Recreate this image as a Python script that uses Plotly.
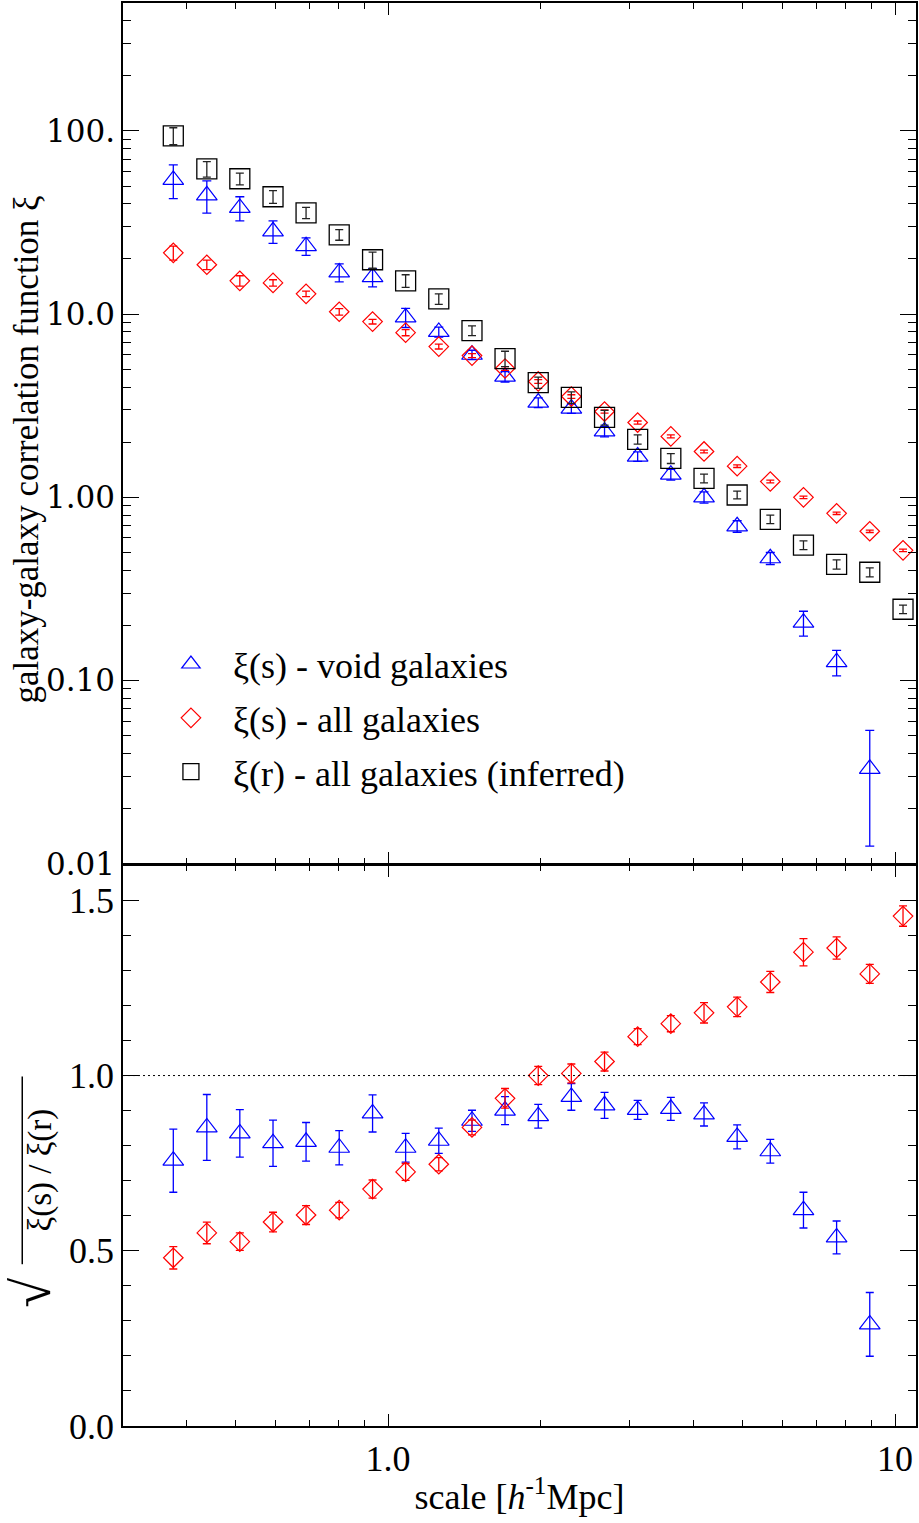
import numpy as np
import plotly.graph_objects as go

# ---------------- data ----------------
scale = [0.377, 0.439, 0.510, 0.593, 0.689, 0.801, 0.932, 1.083, 1.259, 1.464,
         1.701, 1.978, 2.299, 2.673, 3.107, 3.612, 4.200, 4.882, 5.675, 6.598,
         7.670, 8.916, 10.37]

xi_void = [54.0, 44.5, 38.0, 28.3, 23.5, 16.9, 15.9, 9.6, 8.0, 6.0,
           4.56, 3.29, 3.05, 2.29, 1.67, 1.33, 1.00, 0.695, 0.465, 0.207,
           0.126, 0.033]
xi_void_err = [11.3, 8.9, 5.7, 4.0, 2.6, 1.9, 1.8, 1.15, 0.5, 0.35,
               0.3, 0.2, 0.18, 0.15, 0.1, 0.09, 0.07, 0.05, 0.035, 0.032,
               0.020, 0.0205]

xi_all = [21.6, 18.6, 15.2, 14.8, 12.9, 10.3, 9.10, 7.92, 6.65, 5.94,
          5.05, 4.29, 3.55, 2.94, 2.56, 2.15, 1.78, 1.48, 1.22, 1.00,
          0.818, 0.653, 0.514]
xi_all_err = [1.9, 1.1, 1.0, 0.6, 0.45, 0.42, 0.27, 0.3, 0.2, 0.15,
              0.12, 0.1, 0.08, 0.06, 0.05, 0.04, 0.03, 0.025, 0.02, 0.015,
              0.012, 0.01, 0.008]

xi_r = [94.0, 62.0, 54.8, 43.7, 35.7, 27.1, 19.8, 15.2, 12.1, 8.13,
        5.72, 4.23, 3.51, 2.73, 2.07, 1.63, 1.27, 1.03, 0.759, 0.548,
        0.431, 0.390, 0.245]
xi_r_err = [10.0, 6.0, 4.0, 3.5, 2.5, 1.8, 2.0, 1.2, 0.8, 0.5,
            0.55, 0.3, 0.25, 0.25, 0.12, 0.1, 0.07, 0.05, 0.04, 0.03,
            0.025, 0.022, 0.013]

ratio_void = [0.757, 0.852, 0.835, 0.807, 0.811, 0.794, 0.892, 0.794, 0.814, 0.871,
              0.900, 0.884, 0.939, 0.915, 0.902, 0.905, 0.889, 0.825, 0.784, 0.616,
              0.538, 0.290]
ratio_void_err = [0.090, 0.094, 0.068, 0.066, 0.055, 0.049, 0.053, 0.041, 0.036, 0.030,
                  0.040, 0.034, 0.038, 0.037, 0.027, 0.033, 0.033, 0.034, 0.034, 0.051,
                  0.047, 0.091]

ratio_all = [0.480, 0.551, 0.526, 0.582, 0.602, 0.616, 0.676, 0.725, 0.747, 0.852,
             0.935, 1.000, 1.006, 1.040, 1.111, 1.148, 1.179, 1.196, 1.267, 1.352,
             1.364, 1.290, 1.455]
ratio_all_err = [0.032, 0.031, 0.025, 0.028, 0.027, 0.022, 0.026, 0.024, 0.019, 0.021,
                 0.028, 0.026, 0.027, 0.027, 0.023, 0.023, 0.029, 0.028, 0.030, 0.039,
                 0.032, 0.027, 0.029]

top_tickvals = [0.01, 0.1, 1, 10, 100]
top_ticktext = ["0.01", "0.10", "1.00", "10.0", "100."]
bot_tickvals = [0.0, 0.5, 1.0, 1.5]
bot_ticktext = ["0.0", "0.5", "1.0", "1.5"]
x_tickvals = [1, 10]
x_ticktext = ["1.0", "10"]

# ---------------- styling ----------------
BLUE = "#0000ff"
RED = "#ff0000"
BLACK = "#000000"
SERIF = "Liberation Serif"

W, H = 919, 1523
ML, MR, MT, MB = 123, 1, 1, 97
plot_h = H - MT - MB
LW = 1.5
split = 563 / plot_h  # bottom panel fraction
split_low = split - LW / plot_h  # so the two frame lines coincide

minor_x = [m * d for d in (0.1, 1.0) for m in range(2, 10) if 0.3 <= m * d <= 11]
minor_ytop = [m * 10.0 ** e for e in range(-2, 3) for m in range(2, 10)]

fig = go.Figure()

n_void = len(xi_void)
fig.add_trace(go.Scatter(
    x=scale[:n_void], y=xi_void, mode="markers", name="ξ(s) - void galaxies",
    legendgroup="g1",
    marker=dict(symbol="triangle-up-open", size=18, color=BLUE, line=dict(width=1.2, color=BLUE)),
    error_y=dict(type="data", array=xi_void_err, color=BLUE, thickness=1.3, width=4.5),
    xaxis="x", yaxis="y"))
fig.add_trace(go.Scatter(
    x=scale, y=xi_all, mode="markers", name="ξ(s) - all galaxies",
    legendgroup="g2",
    marker=dict(symbol="diamond-open", size=15, color=RED, line=dict(width=1.2, color=RED)),
    error_y=dict(type="data", array=xi_all_err, color=RED, thickness=1.3, width=4),
    xaxis="x", yaxis="y"))
fig.add_trace(go.Scatter(
    x=scale, y=xi_r, mode="markers", name="ξ(r) - all galaxies (inferred)",
    legendgroup="g3",
    marker=dict(symbol="square-open", size=20, color=BLACK, line=dict(width=1.3, color="#222222")),
    error_y=dict(type="data", array=xi_r_err, color="#222222", thickness=1.3, width=4),
    xaxis="x", yaxis="y"))

fig.add_trace(go.Scatter(
    x=scale[:len(ratio_void)], y=ratio_void, mode="markers", showlegend=False,
    marker=dict(symbol="triangle-up-open", size=18, color=BLUE, line=dict(width=1.2, color=BLUE)),
    error_y=dict(type="data", array=ratio_void_err, color=BLUE, thickness=1.3, width=4),
    xaxis="x2", yaxis="y2"))
fig.add_trace(go.Scatter(
    x=scale, y=ratio_all, mode="markers", showlegend=False,
    marker=dict(symbol="diamond-open", size=15, color=RED, line=dict(width=1.2, color=RED)),
    error_y=dict(type="data", array=ratio_all_err, color=RED, thickness=1.3, width=4),
    xaxis="x2", yaxis="y2"))

axis_common = dict(showline=True, linecolor=BLACK, linewidth=LW, mirror="ticks",
                   showgrid=False, zeroline=False, ticks="inside", tickcolor=BLACK,
                   tickwidth=1)

xrange = [np.log10(0.3), np.log10(11)]

fig.update_layout(
    width=W, height=H,
    margin=dict(l=ML, r=MR, t=MT, b=MB),
    paper_bgcolor="white", plot_bgcolor="white",
    font=dict(family=SERIF, size=36, color=BLACK),
    xaxis=dict(axis_common, type="log", range=xrange, anchor="y", domain=[0, 1],
               matches="x2", showticklabels=False, ticklen=12,
               tickvals=x_tickvals,
               minor=dict(tickvals=minor_x, ticks="inside", ticklen=6, tickwidth=1, tickcolor=BLACK)),
    yaxis=dict(axis_common, type="log", range=[-2, 2.698], anchor="x", domain=[split, 1],
               tickvals=top_tickvals, ticktext=top_ticktext, ticklen=16,
               tickfont=dict(family="DejaVu Serif", size=31, color=BLACK),
               minor=dict(tickvals=minor_ytop, ticks="inside", ticklen=8, tickwidth=1, tickcolor=BLACK)),
    xaxis2=dict(axis_common, type="log", range=xrange, anchor="y2", domain=[0, 1],
                tickvals=x_tickvals, ticktext=x_ticktext, ticklen=12,
                tickfont=dict(family=SERIF, size=36, color=BLACK),
                title=dict(text="scale [<i>h</i><sup>-1</sup>Mpc]", standoff=6,
                           font=dict(family=SERIF, size=36, color=BLACK)),
                minor=dict(tickvals=minor_x, ticks="inside", ticklen=6, tickwidth=1, tickcolor=BLACK)),
    yaxis2=dict(axis_common, range=[0, 1.6], anchor="x2", domain=[0, split_low],
                tickvals=bot_tickvals, ticktext=bot_ticktext, ticklen=16,
                tickfont=dict(family=SERIF, size=36, color=BLACK),
                minor=dict(dtick=0.1, tick0=0, ticks="inside", ticklen=8, tickwidth=1, tickcolor=BLACK)),
    legend=dict(x=(149 - ML) / (W - ML - MR), y=(H - MB - 633) / plot_h,
                xanchor="left", yanchor="top", bgcolor="rgba(0,0,0,0)",
                font=dict(family=SERIF, size=36, color=BLACK),
                itemwidth=74, tracegroupgap=4, itemsizing="trace"),
    showlegend=True,
)

def px_to_paper_x(px):
    return (px - ML) / (W - ML - MR)

def px_to_paper_y(py):
    return (H - MB - py) / plot_h

# y-axis titles
fig.add_annotation(text="galaxy-galaxy correlation function ξ", textangle=-90,
                   xref="paper", yref="paper", x=px_to_paper_x(26), y=px_to_paper_y(448),
                   showarrow=False, font=dict(family=SERIF, size=35, color=BLACK),
                   xanchor="center", yanchor="middle")
fig.add_annotation(text="ξ(s) / ξ(r)", textangle=-90,
                   xref="paper", yref="paper", x=px_to_paper_x(40), y=px_to_paper_y(1170),
                   showarrow=False, font=dict(family=SERIF, size=33, color=BLACK),
                   xanchor="center", yanchor="middle")
fig.add_annotation(text="√", textangle=-90,
                   xref="paper", yref="paper", x=px_to_paper_x(32), y=px_to_paper_y(1292),
                   showarrow=False, font=dict(family=SERIF, size=54, color=BLACK),
                   xanchor="center", yanchor="middle")
# overline of the square root
fig.add_shape(type="line", xref="paper", yref="paper",
              x0=px_to_paper_x(22), x1=px_to_paper_x(22),
              y0=px_to_paper_y(1076), y1=px_to_paper_y(1264),
              line=dict(color=BLACK, width=1.5))

# reference line at ratio 1
fig.add_shape(type="line", xref="x2 domain", yref="y2", x0=0, x1=1, y0=1.0, y1=1.0,
              line=dict(color=BLACK, width=1, dash="2px,3px"))

fig.write_html("out.html")
